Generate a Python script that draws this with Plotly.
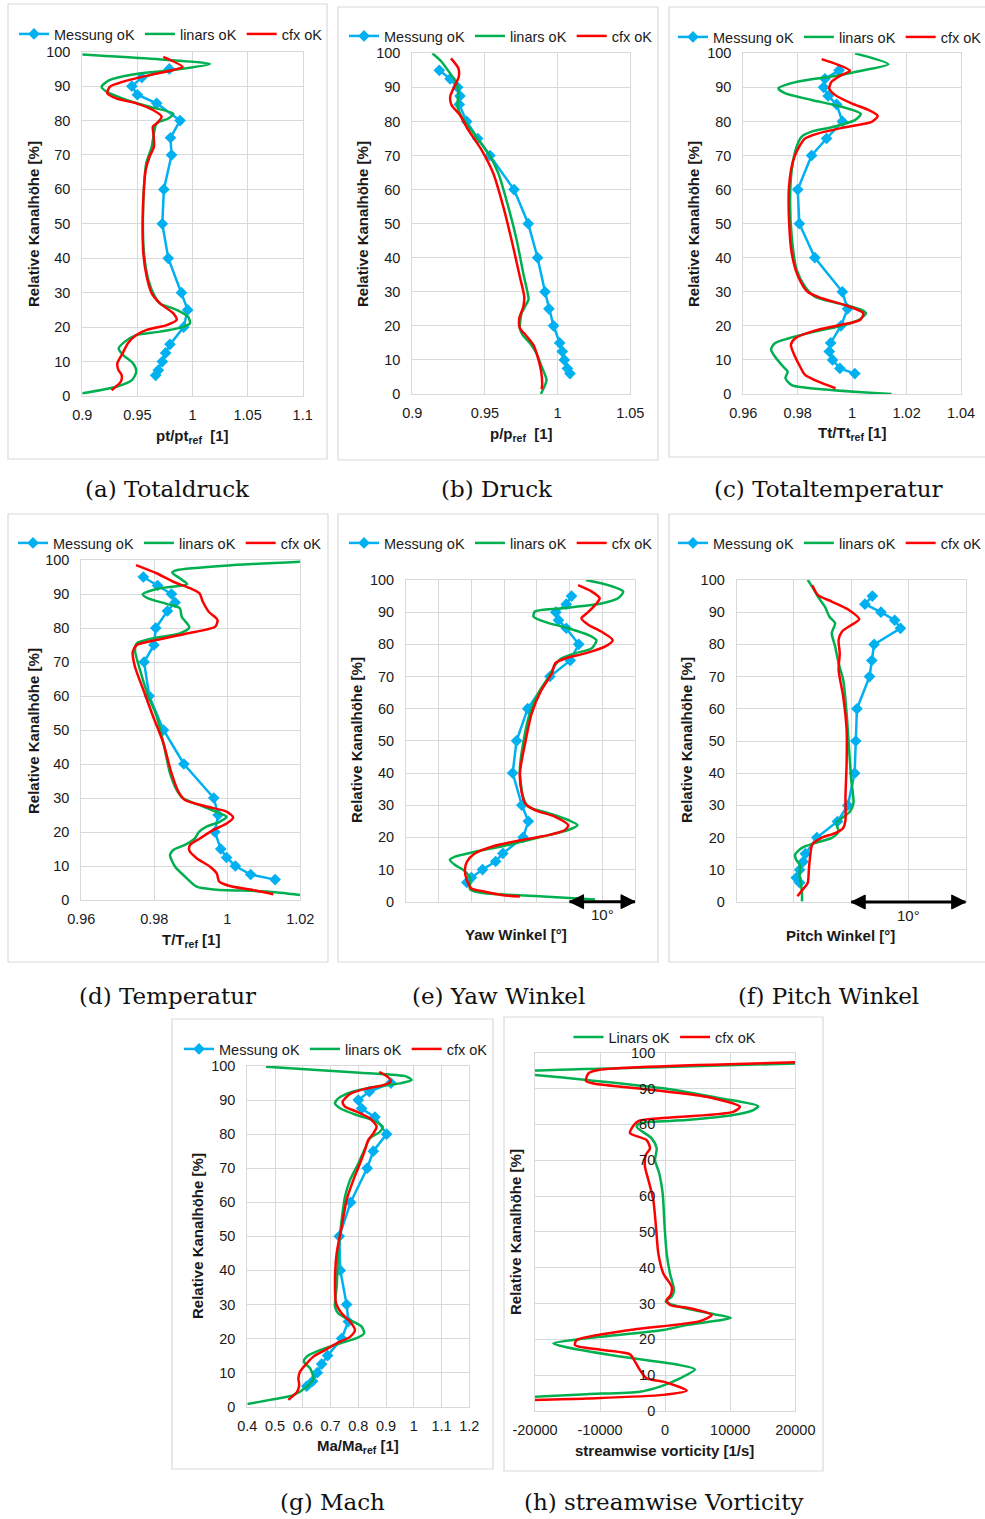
import plotly.graph_objects as go

W, H = 985, 1519
BLUE, GREEN, RED = "#00B0F0", "#00B050", "#FF0000"
GRID = "#D9D9D9"
TXT = "#1a1a1a"
SANS = "Liberation Sans, Arial, sans-serif"
SERIF = "DejaVu Serif, Liberation Serif, serif"

# ---------------- data ----------------
meas_y = [95, 92.5, 90, 87.5, 85, 80, 75, 70, 60, 50, 40, 30, 25, 20, 15, 12.5, 10, 7.5, 6]

# (a) Totaldruck
a_meas_x = [0.979, 0.954, 0.945, 0.950, 0.9675, 0.9887, 0.980, 0.981, 0.974, 0.9726, 0.978, 0.990,
            0.9956, 0.992, 0.9796, 0.9756, 0.9726, 0.969, 0.9666]
a_lin_x = [0.900, 0.960, 1.0159, 0.9826, 0.946, 0.925, 0.9175, 0.922, 0.940, 0.961, 0.9826, 0.978,
           0.9675, 0.965, 0.963, 0.958, 0.956, 0.955, 0.956, 0.960, 0.966, 0.9705, 0.9856, 0.996,
           0.9977, 0.992, 0.9705, 0.949, 0.9387, 0.933, 0.937, 0.946, 0.949, 0.945, 0.931, 0.900]
a_lin_y = [99.2, 98.0, 96.4, 94.7, 93.4, 91.8, 89.8, 88.4, 86.0, 84.0, 82.0, 80.6, 79.2, 76.3, 72.4,
           67.6, 60.8, 51.0, 41.4, 33.7, 28.8, 26.9, 25.0, 23.0, 21.1, 20.1, 18.7, 17.7, 15.8, 13.8,
           11.9, 9.5, 7.1, 4.6, 2.7, 0.8]
a_cfx_x = [0.9735, 0.991, 0.9826, 0.9614, 0.9372, 0.925, 0.9227, 0.9312, 0.949, 0.9645, 0.972, 0.9675,
           0.964, 0.9645, 0.965, 0.961, 0.9575, 0.956, 0.9548, 0.9554, 0.9584, 0.963, 0.9705, 0.9826,
           0.9856, 0.9766, 0.9584, 0.949, 0.9414, 0.9366, 0.9318, 0.9327, 0.9357, 0.935, 0.9266]
a_cfx_y = [98.5, 95.6, 94.7, 93.2, 91.3, 89.8, 87.9, 86.4, 85.0, 83.0, 81.1, 79.2, 78.2, 76.3, 72.4,
           69.5, 65.6, 60.8, 51.1, 41.4, 34.7, 29.8, 26.9, 24.0, 22.1, 20.6, 19.2, 17.7, 15.3, 12.4,
           9.5, 7.6, 6.1, 4.2, 1.7]

# (b) Druck
b_meas_x = [0.9186, 0.926, 0.9312, 0.9328, 0.9323, 0.9374, 0.945, 0.9534, 0.970, 0.9798, 0.9862,
            0.9913, 0.994, 0.9972, 1.0014, 1.0032, 1.0046, 1.0067, 1.0085]
b_lin_x = [0.9138, 0.920, 0.926, 0.9298, 0.9317, 0.9312, 0.934, 0.9431, 0.9523, 0.9592, 0.966, 0.9718,
           0.9764, 0.9794, 0.980, 0.9775, 0.9752, 0.974, 0.976, 0.981, 0.9855, 0.989, 0.9924, 0.9913,
           0.9885]
b_lin_y = [100, 97.6, 94.1, 91.7, 89.2, 84.3, 81.4, 76.0, 70.6, 64.8, 55.0, 45.2, 35.4, 29.5, 27.8,
           25.6, 23.7, 19.3, 17.3, 14.9, 11.9, 8.0, 4.1, 2.6, 0]
b_cfx_x = [0.9266, 0.9317, 0.932, 0.9289, 0.9261, 0.927, 0.9328, 0.9385, 0.9477, 0.9557, 0.9626,
           0.9683, 0.974, 0.977, 0.9764, 0.9736, 0.974, 0.978, 0.9833, 0.9862, 0.9885, 0.9894, 0.989]
b_cfx_y = [98.5, 95.6, 93.2, 90.2, 87.3, 84.8, 81.9, 77.5, 71.6, 64.8, 55.0, 45.2, 34.4, 28.6, 25.6,
           22.2, 19.3, 17.3, 14.4, 11.0, 7.0, 3.1, 1.4]

# (c) Totaltemperatur
c_meas_x = [0.9952, 0.990, 0.9895, 0.9912, 0.9943, 0.9964, 0.9906, 0.9851, 0.980, 0.9806, 0.9863,
            0.9964, 0.9983, 0.9959, 0.9921, 0.9916, 0.9928, 0.9955, 1.001]
c_lin_x = [1.001, 1.0133, 1.0047, 0.9925, 0.9802, 0.9729, 0.9753, 0.9851, 0.9961, 1.0032, 1.001,
           0.9925, 0.9851, 0.9814, 0.9796, 0.9778, 0.9772, 0.9778, 0.9796, 0.9827, 0.9863, 0.9949,
           1.0035, 1.0051, 1.0023, 0.9949, 0.9863, 0.9765, 0.9716, 0.9702, 0.9716, 0.9747, 0.9763,
           0.9755, 0.9778, 0.9888, 1.0145]
c_lin_y = [100, 96.8, 95.1, 93.2, 91.7, 89.7, 88.3, 86.3, 84.3, 82.2, 80.4, 78.3, 77.0, 75.5, 72.6,
           65.8, 56.0, 46.2, 36.4, 31.5, 28.6, 26.6, 24.7, 23.7, 21.7, 19.8, 18.3, 16.3, 14.9, 13.1,
           11.0, 8.0, 6.6, 4.6, 2.6, 1.4, 0]
c_cfx_x = [0.9888, 0.9949, 0.9992, 0.9961, 0.9925, 0.9916, 0.9937, 0.9998, 1.0059, 1.0094, 1.0072,
           0.9974, 0.9876, 0.9827, 0.9809, 0.9784, 0.9768, 0.9768, 0.9778, 0.9802, 0.9836, 0.9888,
           0.9974, 1.0041, 1.0029, 0.9961, 0.9863, 0.979, 0.9775, 0.979, 0.9809, 0.9827, 0.9876, 0.9939]
c_cfx_y = [98.3, 96.6, 94.9, 93.6, 91.7, 89.7, 87.8, 85.3, 83.4, 81.6, 79.9, 78.3, 76.5, 75.0, 73.1,
           68.7, 60.9, 51.1, 41.3, 34.4, 30.0, 28.1, 26.1, 23.7, 21.7, 20.3, 18.6, 16.3, 14.4, 11.0,
           8.0, 5.6, 3.6, 1.7]

# (d) Temperatur
d_meas_x = [0.977, 0.9809, 0.9847, 0.9857, 0.9836, 0.9804, 0.9799, 0.9772, 0.9786, 0.9825, 0.9881,
            0.9963, 0.9975, 0.9966, 0.9982, 0.9998, 1.0022, 1.0064, 1.0131]
d_lin_x = [1.0199, 1.0017, 0.9861, 0.9849, 0.987, 0.989, 0.9815, 0.9768, 0.9783, 0.9834, 0.987,
           0.9875, 0.9896, 0.987, 0.9798, 0.9752, 0.9747, 0.9761, 0.9784, 0.9807, 0.9825, 0.9843,
           0.9861, 0.9879, 0.9934, 0.9979, 0.9998, 0.9979, 0.9943, 0.9923, 0.9911, 0.9884, 0.9852,
           0.9843, 0.9857, 0.9884, 0.9916, 0.9962, 1.0108, 1.0199]
d_lin_y = [99.5, 98.5, 97.0, 96.3, 94.6, 92.9, 91.7, 89.9, 88.7, 87.1, 85.8, 83.3, 80.2, 78.4, 77.0,
           75.5, 73.5, 67.6, 59.8, 53.9, 46.1, 37.3, 32.4, 29.9, 27.5, 25.5, 24.5, 23.0, 21.6, 20.1,
           18.1, 16.2, 14.7, 13.2, 9.8, 6.9, 3.9, 3.1, 2.5, 1.5]
d_cfx_x = [0.975, 0.9806, 0.9852, 0.9898, 0.9924, 0.9933, 0.9949, 0.9973, 0.9967, 0.9889, 0.9807,
           0.9752, 0.9741, 0.9747, 0.977, 0.9797, 0.9825, 0.9847, 0.9866, 0.9884, 0.9943, 0.9998,
           1.0016, 0.9998, 0.9962, 0.9925, 0.9898, 0.9896, 0.9916, 0.9953, 0.9971, 0.9978, 1.0007,
           1.0071, 1.0126]
d_cfx_y = [98.5, 96.1, 93.6, 91.7, 90.2, 87.7, 84.8, 82.4, 80.4, 78.4, 76.5, 75.0, 73.0, 68.6, 61.8,
           53.9, 46.1, 37.3, 31.9, 29.4, 27.5, 26.0, 24.3, 22.5, 20.6, 18.1, 16.2, 14.5, 12.3, 9.8,
           7.8, 5.4, 4.1, 2.9, 1.7]

# (e) Yaw Winkel  [deg, relative scale]
e_meas_x = [25.3, 24.5, 22.9, 23.3, 24.5, 26.4, 25.1, 22.0, 18.6, 16.9, 16.3, 17.7, 18.7, 17.9, 14.8,
            13.7, 11.7, 10.0, 9.3]
e_lin_x = [27.5, 30.9, 33.2, 32.4, 29.9, 23.8, 19.7, 19.5, 21.2, 24.8, 27.9, 29.1, 28.4, 25.8, 23.7,
           22.8, 21.8, 20.2, 18.9, 17.9, 17.4, 17.9, 18.7, 21.8, 24.8, 26.2, 24.8, 20.7, 15.6, 10.5,
           7.5, 6.7, 7.5, 8.8, 9.8, 9.8, 12.1, 19.7, 28.9]
e_lin_y = [100, 98.4, 96.4, 94.3, 92.7, 91.2, 90.2, 88.6, 87.0, 85.0, 82.9, 81.3, 78.8, 77.2, 75.6,
           73.6, 69.9, 64.8, 58.5, 49.2, 40.9, 32.6, 29.5, 27.5, 25.4, 23.8, 22.3, 20.2, 17.6, 15.5,
           14.0, 13.0, 11.4, 9.8, 7.3, 3.8, 2.6, 1.8, 0.7]
e_cfx_x = [26.3, 28.4, 29.6, 28.9, 27.6, 26.8, 27.9, 29.9, 31.6, 30.4, 27.4, 24.3, 22.8, 22.3, 20.7,
           19.2, 18.2, 17.4, 17.7, 18.2, 19.7, 22.8, 24.8, 24.3, 21.8, 17.7, 13.1, 10.5, 9.3, 9.0,
           9.3, 10.0, 12.1, 14.6, 17.4]
e_cfx_y = [98.4, 96.4, 94.3, 92.2, 89.6, 88.1, 86.0, 83.9, 81.3, 79.3, 77.2, 75.6, 74.1, 71.0, 65.8,
           58.5, 49.2, 39.9, 33.7, 30.6, 28.5, 26.4, 23.8, 22.3, 20.7, 19.2, 17.1, 15.0, 12.4, 9.8,
           6.7, 4.1, 3.1, 2.1, 1.6]

# (f) Pitch Winkel [deg, relative scale]
f_meas_x = [11.85, 11.2, 12.6, 13.8, 14.3, 12.0, 11.8, 11.6, 10.5, 10.4, 10.3, 9.7, 8.8, 7.0, 6.0,
            5.8, 5.5, 5.2, 5.5]
f_lin_x = [6.2, 6.6, 7.1, 7.7, 8.1, 8.6, 8.3, 8.6, 8.9, 9.3, 9.6, 9.8, 10.0, 10.2, 9.9, 9.2, 8.7,
           8.9, 8.3, 6.8, 5.7, 5.1, 5.2, 5.5, 5.5, 5.6, 5.7, 5.7]
f_lin_y = [100, 97.9, 94.8, 91.7, 88.6, 86.6, 83.5, 79.3, 74.1, 69.0, 58.6, 48.3, 38.0, 30.7, 28.1,
           26.1, 24.5, 21.9, 19.9, 18.3, 16.8, 14.7, 13.1, 11.6, 8.0, 5.9, 2.8, 0.2]
f_cfx_x = [6.6, 7.1, 8.3, 9.8, 10.7, 10.0, 9.2, 8.9, 9.0, 8.9, 9.3, 9.6, 9.6, 9.5, 9.5, 9.3, 8.6,
           7.4, 6.6, 6.4, 6.3, 6.2, 5.8, 5.3]
f_cfx_y = [98.4, 95.3, 93.3, 90.7, 87.8, 86.0, 84.0, 81.4, 77.2, 72.1, 63.8, 53.5, 43.1, 32.8, 25.5,
           23.0, 21.4, 19.9, 17.8, 13.7, 10.0, 5.9, 4.0, 1.8]

# (g) Mach
g_meas_x = [0.9177, 0.8396, 0.80, 0.812, 0.86, 0.902, 0.854, 0.832, 0.7724, 0.7315, 0.7351, 0.758,
            0.764, 0.74, 0.6895, 0.668, 0.6522, 0.6354, 0.614]
g_lin_x = [0.4673, 0.806, 0.974, 0.992, 0.95, 0.866, 0.782, 0.728, 0.716, 0.734, 0.794, 0.854,
           0.8877, 0.878, 0.842, 0.824, 0.80, 0.77, 0.752, 0.74, 0.728, 0.722, 0.716, 0.728, 0.77,
           0.812, 0.8208, 0.794, 0.734, 0.662, 0.614, 0.604, 0.626, 0.638, 0.614, 0.566, 0.482, 0.40]
g_lin_y = [99.8, 98.0, 96.9, 95.9, 94.9, 93.9, 92.5, 90.5, 89.0, 87.6, 85.6, 84.0, 82.2, 80.7, 78.8,
           75.8, 71.4, 66.5, 61.6, 54.8, 45.0, 35.2, 29.4, 27.4, 25.4, 23.5, 21.5, 20.1, 18.6, 16.6,
           14.7, 13.2, 11.3, 8.3, 5.9, 3.4, 2.0, 0.8]
g_cfx_x = [0.8757, 0.908, 0.9165, 0.89, 0.83, 0.77, 0.7435, 0.752, 0.794, 0.842, 0.866, 0.854, 0.836,
           0.824, 0.806, 0.782, 0.758, 0.74, 0.722, 0.716, 0.72, 0.74, 0.77, 0.788, 0.77, 0.722, 0.68,
           0.638, 0.614, 0.59, 0.584, 0.587, 0.58, 0.548]
g_cfx_y = [98.3, 96.7, 95.4, 94.4, 93.4, 91.8, 89.5, 88.1, 86.6, 84.6, 82.2, 80.2, 78.3, 75.3, 71.4,
           66.5, 60.7, 52.8, 45.0, 37.2, 30.3, 27.4, 25.0, 22.5, 20.5, 18.6, 16.6, 14.7, 12.7, 10.3,
           8.3, 6.4, 4.4, 2.0]

# (h) streamwise vorticity
h_lin_x = [20100, 0, -20000, -23000, -20000, -12060, 0, 8430, 14300, 13550, 10470, 3300, -3870,
           -4380, -2070, -1300, -1560, -900, -380, -80, 230, 740, 1360, 1000, 80, 1770, 6370, 10100,
           3300, -280, -12060, -17180, -15650, -6940, 2280, 4580, 2280, -790, -3870, -12060, -20000]
h_lin_y = [97.0, 96.0, 95.0, 94.4, 93.8, 92.4, 90.0, 87.3, 85.1, 84.0, 82.6, 81.2, 80.3, 79.3, 76.1,
           73.3, 70.0, 66.3, 60.7, 51.4, 44.0, 38.4, 33.8, 31.9, 30.5, 29.3, 27.4, 26.0, 24.0, 22.6,
           20.3, 18.9, 18.0, 15.2, 12.8, 11.6, 9.1, 6.8, 5.4, 4.7, 4.0]
h_cfx_x = [20100, -10270, -11800, -12160, -11030, -1820, 6370, 11500, 10470, -790, -4120, -5150,
           -5400, -2840, -2330, -3000, -3100, -2580, -1820, -1410, -1050, -280, 1000, 850, 230, 740,
           3810, 7150, 5350, -5400, -13590, -13850, -9500, -5400, -4630, -3870, -2840, -280, 3300,
           -280, -12060, -20000]
h_cfx_y = [97.3, 95.2, 94.2, 92.1, 91.4, 89.6, 87.7, 84.9, 83.5, 81.7, 80.9, 78.9, 77.5, 75.6, 73.3,
           71.4, 68.2, 64.5, 58.9, 51.4, 44.0, 38.4, 34.7, 32.4, 31.0, 29.6, 28.7, 26.8, 25.1, 22.6,
           19.8, 18.4, 17.0, 15.8, 13.8, 11.4, 9.1, 8.2, 5.7, 4.5, 3.5, 3.1]

y_ticks = list(range(0, 101, 10))

# ---------------- layout helpers ----------------
def fx(p):
    return p / W


def fy(p):
    return 1 - p / H


panels = [
    dict(plot=(82.3, 51.7, 302.7, 396), box=(8, 4, 327, 459), xr=[0.9, 1.1],
         xt=[0.9, 0.95, 1, 1.05, 1.1], xtt=["0.9", "0.95", "1", "1.05", "1.1"],
         xtitle="pt/pt<sub>ref</sub>  [1]", xtp=(192, 437), ytp=(33, 224), lg=(171, 34),
         cap="(a) Totaldruck", capp=(167, 489),
         meas=(a_meas_x, meas_y), lin=(a_lin_x, a_lin_y), cfx=(a_cfx_x, a_cfx_y)),
    dict(plot=(412.3, 53.3, 630.3, 394), box=(338, 7, 658, 460), xr=[0.9, 1.05],
         xt=[0.9, 0.95, 1, 1.05], xtt=["0.9", "0.95", "1", "1.05"],
         xtitle="p/p<sub>ref</sub>  [1]", xtp=(521, 434), ytp=(362, 224), lg=(501, 36),
         cap="(b) Druck", capp=(497, 489),
         meas=(b_meas_x, meas_y), lin=(b_lin_x, b_lin_y), cfx=(b_cfx_x, b_cfx_y)),
    dict(plot=(743.3, 53.3, 961, 394), box=(669, 7, 992, 457), xr=[0.96, 1.04],
         xt=[0.96, 0.98, 1, 1.02, 1.04], xtt=["0.96", "0.98", "1", "1.02", "1.04"],
         xtitle="Tt/Tt<sub>ref</sub> [1]", xtp=(852, 433), ytp=(693, 224), lg=(830, 37),
         cap="(c) Totaltemperatur", capp=(828, 489),
         meas=(c_meas_x, meas_y), lin=(c_lin_x, c_lin_y), cfx=(c_cfx_x, c_cfx_y)),
    dict(plot=(81.3, 560, 300.3, 900), box=(8, 514, 328, 962), xr=[0.96, 1.02],
         xt=[0.96, 0.98, 1, 1.02], xtt=["0.96", "0.98", "1", "1.02"],
         xtitle="T/T<sub>ref</sub> [1]", xtp=(191, 940), ytp=(33, 731), lg=(170, 543),
         cap="(d) Temperatur", capp=(167, 996),
         meas=(d_meas_x, meas_y), lin=(d_lin_x, d_lin_y), cfx=(d_cfx_x, d_cfx_y)),
    dict(plot=(406, 580, 635, 901.7), box=(338, 514, 658, 962), xr=[0, 35],
         xt=list(range(0, 36, 5)), xtt=None,
         xtitle="Yaw Winkel [°]", xtp=(516, 934), ytp=(356, 740), lg=(501, 543),
         cap="(e) Yaw Winkel", capp=(498, 996), arrow=(25, 35),
         meas=(e_meas_x, meas_y), lin=(e_lin_x, e_lin_y), cfx=(e_cfx_x, e_cfx_y)),
    dict(plot=(736.7, 580, 965.7, 902), box=(669, 514, 992, 962), xr=[0, 20],
         xt=list(range(0, 21, 5)), xtt=None,
         xtitle="Pitch Winkel [°]", xtp=(840, 935), ytp=(686, 740), lg=(830, 543),
         cap="(f) Pitch Winkel", capp=(828, 996), arrow=(10, 20),
         meas=(f_meas_x, meas_y), lin=(f_lin_x, f_lin_y), cfx=(f_cfx_x, f_cfx_y)),
    dict(plot=(247.3, 1066, 469.3, 1406.7), box=(172, 1019, 493, 1469), xr=[0.4, 1.2],
         xt=[0.4, 0.5, 0.6, 0.7, 0.8, 0.9, 1.0, 1.1, 1.2],
         xtt=["0.4", "0.5", "0.6", "0.7", "0.8", "0.9", "1", "1.1", "1.2"],
         xtitle="Ma/Ma<sub>ref</sub> [1]", xtp=(358, 1446), ytp=(197, 1236), lg=(336, 1049),
         cap="(g) Mach", capp=(332, 1502),
         meas=(g_meas_x, meas_y), lin=(g_lin_x, g_lin_y), cfx=(g_cfx_x, g_cfx_y)),
    dict(plot=(535, 1052.7, 795.3, 1411), box=(504, 1017, 823, 1471), xr=[-20000, 20000],
         xt=[-20000, -10000, 0, 10000, 20000], xtt=["-20000", "-10000", "0", "10000", "20000"],
         xtitle="streamwise vorticity [1/s]", xtp=(664, 1450), ytp=(515, 1232), lg=(665, 1037),
         cap="(h) streamwise Vorticity", capp=(663, 1502), linname="Linars oK",
         meas=None, lin=(h_lin_x, h_lin_y), cfx=(h_cfx_x, h_cfx_y)),
]

fig = go.Figure()
layout = dict(width=W, height=H, margin=dict(l=0, r=0, t=0, b=0, autoexpand=False),
              paper_bgcolor="white", plot_bgcolor="white", showlegend=True,
              font=dict(family=SANS, color=TXT))
annotations = []
shapes = []
tickfont = dict(family=SANS, size=14.5, color=TXT)

for i, p in enumerate(panels, start=1):
    sfx = "" if i == 1 else str(i)
    xa, ya = "x" + sfx, "y" + sfx
    lgname = "legend" + sfx
    L, T, R, B = p["plot"]
    layout["xaxis" + sfx] = dict(
        domain=[fx(L), fx(R)], anchor=ya, range=p["xr"], tickvals=p["xt"],
        ticktext=p["xtt"] if p["xtt"] else None, showticklabels=p["xtt"] is not None,
        showgrid=True, gridcolor=GRID, gridwidth=1, zeroline=False,
        showline=True, mirror=True, linecolor=GRID, linewidth=1,
        ticks="outside", ticklen=6, tickcolor="rgba(0,0,0,0)", tickfont=tickfont)
    layout["yaxis" + sfx] = dict(
        domain=[fy(B), fy(T)], anchor=xa, range=[0, 100], tickvals=y_ticks,
        showgrid=True, gridcolor=GRID, gridwidth=1, zeroline=False,
        showline=True, mirror=True, linecolor=GRID, linewidth=1,
        ticks="outside", ticklen=8, tickcolor="rgba(0,0,0,0)", tickfont=tickfont,
        showticklabels=(i != 8))
    layout[lgname] = dict(orientation="h", x=fx(p["lg"][0]), y=fy(p["lg"][1]),
                          xanchor="center", yanchor="middle", bgcolor="rgba(0,0,0,0)",
                          font=dict(family=SANS, size=14.5, color=TXT), tracegroupgap=0,
                          itemwidth=30)

    if p["meas"] is not None:
        fig.add_trace(go.Scatter(x=p["meas"][0], y=p["meas"][1], mode="lines+markers",
                                 name="Messung oK", legend=lgname, xaxis=xa, yaxis=ya,
                                 line=dict(color=BLUE, width=2.5),
                                 marker=dict(symbol="diamond", size=9, color=BLUE)))
    fig.add_trace(go.Scatter(x=p["lin"][0], y=p["lin"][1], mode="lines",
                             name=p.get("linname", "linars oK"), legend=lgname, xaxis=xa, yaxis=ya,
                             line=dict(color=GREEN, width=2.5, shape="spline", smoothing=0.7)))
    yref_cfx = ya
    if i == 8:
        # tick labels of the vertical axis placed at x = 0 (Excel crossing)
        x0 = L + (0 - p["xr"][0]) / (p["xr"][1] - p["xr"][0]) * (R - L)
        layout["yaxis9"] = dict(
            domain=[fy(B), fy(T)], anchor="free", overlaying=ya, position=fx(x0), side="left",
            range=[0, 100], tickvals=y_ticks, showgrid=False, zeroline=False, showline=False,
            ticks="outside", ticklen=7, tickcolor="rgba(0,0,0,0)", tickfont=tickfont)
        yref_cfx = "y9"
    fig.add_trace(go.Scatter(x=p["cfx"][0], y=p["cfx"][1], mode="lines",
                             name="cfx oK", legend=lgname, xaxis=xa, yaxis=yref_cfx,
                             line=dict(color=RED, width=2.5, shape="spline", smoothing=0.7)))

    # panel frame
    bx0, by0, bx1, by1 = p["box"]
    shapes.append(dict(type="rect", xref="paper", yref="paper", x0=fx(bx0), x1=fx(bx1),
                       y0=fy(by1), y1=fy(by0), line=dict(color=GRID, width=1.2),
                       fillcolor="rgba(0,0,0,0)", layer="below"))
    # axis titles
    annotations.append(dict(text="<b>" + p["xtitle"] + "</b>", x=fx(p["xtp"][0]), y=fy(p["xtp"][1]),
                            xref="paper", yref="paper", showarrow=False, xanchor="center",
                            yanchor="middle", font=dict(family=SANS, size=15, color=TXT)))
    annotations.append(dict(text="<b>Relative Kanalhöhe [%]</b>", x=fx(p["ytp"][0]),
                            y=fy(p["ytp"][1]), xref="paper", yref="paper", showarrow=False,
                            textangle=-90, xanchor="center", yanchor="middle",
                            font=dict(family=SANS, size=15, color=TXT)))
    # caption
    annotations.append(dict(text=p["cap"], x=fx(p["capp"][0]), y=fy(p["capp"][1]),
                            xref="paper", yref="paper", showarrow=False, xanchor="center",
                            yanchor="middle", font=dict(family=SERIF, size=23, color="#111")))
    # 10 degree scale bar with double arrow (on the bottom edge of the plot)
    if "arrow" in p:
        a0, a1 = p["arrow"]
        mid = (a0 + a1) / 2
        ybase = fy(B)
        shapes.append(dict(type="path", xref=xa, yref="paper", xsizemode="scaled",
                           ysizemode="pixel", yanchor=ybase,
                           path=f"M{a0},1.5 L{a1},1.5 L{a1},-1.5 L{a0},-1.5 Z",
                           fillcolor="black", line=dict(color="black", width=0), layer="above"))
        shapes.append(dict(type="path", xref=xa, yref="paper", xsizemode="pixel",
                           ysizemode="pixel", xanchor=a1, yanchor=ybase,
                           path="M0,0 L-14,7 L-14,-7 Z",
                           fillcolor="black", line=dict(color="black", width=1), layer="above"))
        shapes.append(dict(type="path", xref=xa, yref="paper", xsizemode="pixel",
                           ysizemode="pixel", xanchor=a0, yanchor=ybase,
                           path="M0,0 L14,7 L14,-7 Z",
                           fillcolor="black", line=dict(color="black", width=1), layer="above"))
        annotations.append(dict(x=mid, y=0, xref=xa, yref=ya, text="10°", showarrow=False,
                                yshift=-13, font=dict(family=SANS, size=15, color=TXT)))

layout["annotations"] = annotations
layout["shapes"] = shapes
fig.update_layout(**layout)
fig.write_html("out.html", config={"displayModeBar": False},
               post_script="document.body.style.margin='0';document.body.style.overflow='hidden';")
